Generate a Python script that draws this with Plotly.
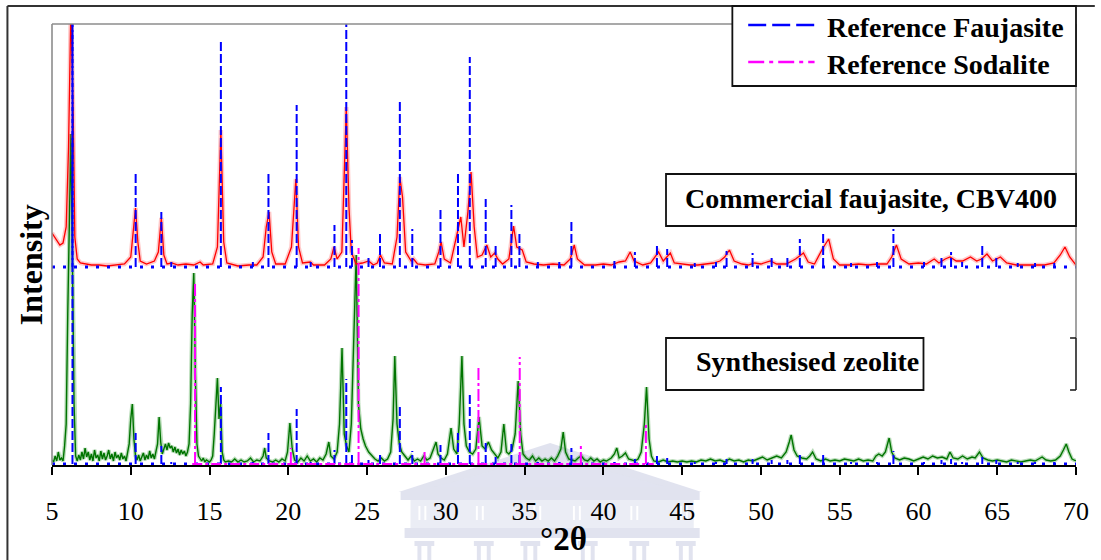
import plotly.graph_objects as go

# ---------------------------------------------------------------------------
# Data: XRD patterns (2-theta in degrees, intensity in arbitrary units)
# ---------------------------------------------------------------------------
UPPER_BASE = 198   # vertical offset of the commercial pattern
LOWER_BASE = 1     # vertical offset of the synthesised pattern

# Commercial faujasite CBV400 pattern
cbv_2theta = [5.0, 5.3, 5.5, 5.7, 5.9, 6.05, 6.2, 6.35, 6.45, 6.6, 6.8, 7.5, 8.0, 8.5, 9.0, 9.6,
              10.0, 10.15, 10.3, 10.45, 10.6, 11.0, 11.5, 11.75, 11.94, 12.1, 12.3, 12.6, 13.0,
              13.5, 14.0, 14.4, 14.6, 15.2, 15.5, 15.72, 15.9, 16.1, 16.8, 17.5, 18.0, 18.4,
              18.6, 18.78, 18.95, 19.2, 19.8, 20.2, 20.48, 20.65, 20.9, 21.4, 21.6, 22.3, 22.7,
              22.9, 23.1, 23.4, 23.68, 23.85, 24.0, 24.3, 24.7, 25.1, 25.4, 25.65, 25.85, 26.1,
              26.6, 26.9, 27.08, 27.25, 27.45, 27.8, 27.95, 28.2, 28.7, 29.3, 29.55, 29.7, 29.9,
              30.3, 30.6, 30.95, 31.15, 31.4, 31.6, 31.8, 32.0, 32.3, 32.6, 32.85, 33.1, 33.3,
              33.6, 34.0, 34.3, 34.5, 34.85, 35.1, 35.6, 36.2, 36.8, 37.5, 37.9, 38.15, 38.35,
              38.8, 39.5, 40.0, 40.5, 41.0, 41.4, 41.7, 41.95, 42.5, 43.0, 43.5, 43.8, 44.25,
              44.5, 45.0, 45.5, 46.0, 46.5, 47.0, 47.4, 47.7, 48.0, 48.3, 48.8, 49.2, 49.6, 50.0,
              50.6, 51.0, 51.6, 52.2, 52.7, 53.0, 53.4, 53.9, 54.3, 54.6, 55.0, 55.6, 56.2, 56.8,
              57.4, 58.0, 58.3, 58.6, 58.9, 59.4, 60.0, 60.5, 61.0, 61.3, 61.7, 62.0, 62.4, 62.8,
              63.3, 63.7, 64.0, 64.35, 64.7, 65.2, 65.6, 66.2, 66.8, 67.4, 68.0, 68.6, 69.0, 69.3,
              69.6, 70.0]
cbv_intensity = [34, 26, 22, 24, 40, 120, 260, 150, 30, 8, 4, 2, 2, 1, 2, 3,
                 10, 35, 59, 25, 6, 3, 6, 15, 49, 12, 3, 4, 2,
                 3, 2, 5, 2, 3, 20, 137, 25, 4, 1, 2, 2, 10,
                 40, 55, 15, 3, 3, 20, 88, 20, 4, 5, 2, 2, 8,
                 20, 8, 15, 160, 60, 15, 3, 4, 6, 2, 4, 12, 4,
                 3, 30, 90, 70, 15, 6, 8, 3, 2, 3, 15, 25, 8,
                 4, 25, 50, 20, 55, 95, 40, 10, 12, 22, 10, 14, 8,
                 3, 8, 41, 20, 17, 5, 3, 2, 3, 2, 8, 22, 8,
                 2, 2, 3, 2, 5, 6, 15, 6, 2, 4, 15, 6, 14,
                 4, 3, 2, 2, 3, 4, 6, 10, 17, 6, 3, 2, 4, 3,
                 6, 3, 3, 8, 14, 5, 3, 18, 28, 8, 2, 2, 3, 2,
                 3, 3, 10, 22, 8, 3, 4, 3, 8, 4, 8, 10, 6, 6,
                 10, 6, 8, 13, 6, 10, 4, 2, 2, 2, 2, 4, 12, 20,
                 10, 2]

# Synthesised zeolite pattern
syn_2theta = [5.0, 5.1, 5.2, 5.3, 5.4, 5.5, 5.6, 5.7, 5.8, 5.9, 6.0, 6.1, 6.2, 6.3, 6.4, 6.5,
              6.6, 6.7, 6.8, 6.9, 7.0, 7.1, 7.2, 7.3, 7.4, 7.5, 7.6, 7.7, 7.8, 7.9, 8.0, 8.1,
              8.2, 8.3, 8.4, 8.5, 8.6, 8.7, 8.8, 8.9, 9.0, 9.1, 9.2, 9.3, 9.4, 9.5, 9.6, 9.7,
              9.8, 9.9, 10.0, 10.1, 10.2, 10.3, 10.4, 10.5, 10.6, 10.7, 10.8, 10.9, 11.0, 11.1,
              11.2, 11.3, 11.4, 11.5, 11.6, 11.7, 11.8, 11.9, 12.0, 12.1, 12.2, 12.3, 12.4,
              12.5, 12.6, 12.7, 12.8, 12.9, 13.0, 13.1, 13.2, 13.3, 13.4, 13.5, 13.6, 13.7,
              13.8, 13.9, 14.0, 14.1, 14.2, 14.3, 14.4, 14.5, 14.6, 14.7, 14.8, 14.9, 15.0,
              15.1, 15.2, 15.3, 15.5, 15.6, 15.7, 15.8, 15.9, 16.0, 16.2, 16.4, 16.6, 16.8,
              17.0, 17.2, 17.4, 17.6, 17.8, 18.0, 18.2, 18.4, 18.5, 18.6, 18.8, 19.0, 19.2,
              19.4, 19.6, 19.8, 19.95, 20.1, 20.25, 20.4, 20.6, 20.8, 21.0, 21.2, 21.4, 21.6,
              21.8, 22.0, 22.2, 22.4, 22.57, 22.7, 22.9, 23.1, 23.25, 23.41, 23.55, 23.7,
              23.85, 24.0, 24.15, 24.31, 24.45, 24.6, 24.75, 24.9, 25.1, 25.3, 25.5, 25.7,
              25.9, 26.1, 26.3, 26.5, 26.65, 26.76, 26.9, 27.05, 27.2, 27.4, 27.6, 27.8, 28.0,
              28.2, 28.4, 28.6, 28.8, 29.0, 29.2, 29.38, 29.5, 29.7, 29.9, 30.1, 30.33, 30.5,
              30.7, 30.85, 31.02, 31.15, 31.3, 31.5, 31.7, 31.9, 32.11, 32.3, 32.5, 32.7, 32.9,
              33.1, 33.3, 33.5, 33.68, 33.85, 34.0, 34.2, 34.4, 34.59, 34.75, 34.9, 35.1, 35.3,
              35.5, 35.7, 35.9, 36.1, 36.3, 36.5, 36.7, 36.9, 37.1, 37.3, 37.45, 37.6, 37.8,
              38.0, 38.2, 38.4, 38.6, 38.8, 39.0, 39.2, 39.4, 39.6, 39.8, 40.0, 40.2, 40.5,
              40.7, 40.85, 41.0, 41.2, 41.4, 41.6, 41.8, 42.0, 42.2, 42.4, 42.6, 42.74, 42.9,
              43.05, 43.2, 43.5, 43.8, 44.1, 44.4, 44.7, 45.0, 45.3, 45.6, 45.9, 46.2, 46.5,
              46.8, 47.1, 47.4, 47.7, 48.0, 48.3, 48.6, 48.9, 49.2, 49.5, 49.8, 50.1, 50.4,
              50.7, 51.0, 51.3, 51.6, 51.8, 51.92, 52.1, 52.3, 52.6, 52.9, 53.1, 53.28, 53.5,
              53.8, 54.1, 54.4, 54.7, 55.0, 55.3, 55.6, 55.9, 56.2, 56.5, 56.8, 57.1, 57.3,
              57.48, 57.7, 57.9, 58.14, 58.3, 58.5, 58.8, 59.1, 59.4, 59.7, 60.0, 60.3, 60.6,
              60.9, 61.2, 61.5, 61.8, 62.0, 62.2, 62.5, 62.8, 63.1, 63.4, 63.6, 63.87, 64.1,
              64.4, 64.7, 65.0, 65.3, 65.6, 65.9, 66.2, 66.5, 66.8, 67.1, 67.4, 67.6, 67.85,
              68.1, 68.4, 68.7, 69.0, 69.2, 69.38, 69.55, 69.75, 70.0]
syn_intensity = [4, 2, 8, 3, 12, 4, 6, 3, 18, 40, 150, 250, 330, 200, 60, 8,
                 3, 9, 4, 12, 5, 16, 7, 12, 4, 10, 3, 14, 6, 9, 3, 13,
                 5, 11, 4, 8, 14, 5, 10, 3, 12, 6, 9, 4, 11, 5, 8, 3,
                 10, 20, 45, 60, 25, 8, 4, 9, 3, 7, 11, 4, 9, 5,
                 13, 6, 10, 5, 12, 20, 47, 22, 10, 16, 20, 14, 21,
                 16, 18, 12, 17, 11, 15, 9, 14, 10, 13, 8, 12, 20,
                 60, 150, 191, 90, 20, 8, 5, 3, 6, 2, 4, 3, 2,
                 4, 8, 30, 86, 45, 60, 12, 4, 2, 3, 2, 5, 2,
                 4, 2, 3, 6, 2, 4, 3, 8, 16, 6, 3, 2, 4,
                 2, 5, 3, 12, 41, 15, 4, 2, 6, 3, 8, 3, 5,
                 2, 6, 4, 10, 22, 8, 5, 12, 40, 116, 30, 18,
                 12, 40, 120, 209, 60, 35, 25, 18, 12, 8, 5, 3,
                 6, 3, 5, 12, 45, 108, 40, 20, 12, 8, 4, 8, 3,
                 5, 3, 8, 4, 6, 14, 22, 10, 6, 4, 10, 36, 15,
                 10, 40, 108, 40, 18, 12, 10, 15, 47, 18, 15, 22, 14,
                 10, 6, 12, 40, 12, 10, 14, 30, 83, 30, 10, 6, 4,
                 8, 3, 6, 3, 5, 3, 6, 3, 8, 15, 32, 12, 5,
                 4, 3, 6, 8, 4, 3, 6, 3, 5, 2, 4, 3, 6,
                 10, 16, 6, 8, 11, 5, 4, 3, 5, 12, 40, 77, 25,
                 8, 3, 2, 4, 2, 3, 2, 3, 2, 3, 2, 4, 3,
                 5, 3, 4, 2, 5, 3, 4, 2, 4, 3, 5, 7, 4,
                 6, 8, 6, 12, 22, 29, 14, 8, 6, 5, 8, 12, 5,
                 3, 5, 3, 4, 3, 5, 4, 3, 5, 3, 4, 3, 8,
                 10, 8, 12, 26, 12, 6, 4, 6, 5, 3, 5, 7, 5,
                 8, 6, 7, 5, 12, 6, 5, 8, 5, 7, 6, 12, 6,
                 4, 3, 4, 3, 2, 4, 3, 2, 3, 4, 3, 5, 7,
                 4, 3, 4, 8, 14, 20, 12, 5, 3]

# Reference faujasite stick pattern (positions, heights for upper and lower set)
fau_2theta = [6.3, 10.31, 11.94, 12.57, 15.72, 17.75, 18.74, 20.53, 21.42, 22.93, 23.68,
              24.04, 25.09, 25.82, 27.08, 27.87, 29.66, 30.77, 31.52, 32.53, 33.16, 34.16,
              34.67, 35.84, 37.2, 37.97, 40.7, 42.0, 43.4, 44.05, 45.8, 47.15, 47.82, 49.47,
              50.68, 51.68, 52.47, 53.95, 55.72, 57.37, 58.41, 60.35, 61.46, 62.07, 62.77,
              64.05, 64.94, 66.3, 67.4, 68.62]
fau_upper = [250, 94, 55, 5, 228, 5, 94, 162, 5, 42, 250,
             27, 12, 34, 167, 38, 60, 94, 210, 68, 22, 62,
             34, 5, 5, 46, 6, 15, 24, 18, 4, 5, 16, 14,
             11, 11, 28, 34, 4, 5, 38, 5, 11, 15, 5,
             21, 11, 4, 4, 4]
fau_lower = [441, 31, 18, 2, 77, 2, 31, 55, 2, 14, 85,
             9, 4, 11, 57, 13, 19, 31, 71, 22, 7, 20,
             11, 2, 2, 16, 2, 5, 8, 6, 2, 2, 5, 5,
             4, 4, 9, 11, 2, 2, 13, 2, 4, 5, 2,
             7, 4, 2, 2, 2]

# Reference sodalite stick pattern
sod_2theta = [14.08, 20.16, 24.46, 28.65, 32.07, 34.69, 38.57, 42.7]
sod_lower = [182, 16, 216, 14, 97, 107, 21, 41]

X_TICKS = [5, 10, 15, 20, 25, 30, 35, 40, 45, 50, 55, 60, 65, 70]

# ---------------------------------------------------------------------------
# Layout geometry (pixels)
# ---------------------------------------------------------------------------
W, H = 1101, 560
ML, MR, MT, MB = 52, 15, 24, 95
PW, PH = W - ML - MR, H - MT - MB
SERIF = "'Liberation Serif', 'Times New Roman', Times, serif"


def px(x):
    return (x - ML) / PW


def py(y):
    return (H - MB - y) / PH


def sticks(pos, heights, base):
    xs, ys = [], []
    for p, h in zip(pos, heights):
        xs += [p, p, None]
        ys += [base, base + h, None]
    return xs, ys


fig = go.Figure()

# Synthesised zeolite (green) with soft halo
syn_y = [LOWER_BASE + v for v in syn_intensity]
fig.add_trace(go.Scatter(x=syn_2theta, y=syn_y, mode="lines",
                         line=dict(color="rgba(0,130,0,0.28)", width=4),
                         hoverinfo="skip", showlegend=False))
fig.add_trace(go.Scatter(x=syn_2theta, y=syn_y, mode="lines", name="Synthesised zeolite",
                         line=dict(color="#007400", width=1.4), showlegend=False))

# Commercial faujasite (red) with soft halo
cbv_y = [UPPER_BASE + v for v in cbv_intensity]
fig.add_trace(go.Scatter(x=cbv_2theta, y=cbv_y, mode="lines",
                         line=dict(color="rgba(255,60,60,0.28)", width=4.5),
                         hoverinfo="skip", showlegend=False))
fig.add_trace(go.Scatter(x=cbv_2theta, y=cbv_y, mode="lines", name="Commercial faujasite, CBV400",
                         line=dict(color="#ff0000", width=1.3), showlegend=False))

# Reference faujasite sticks and baselines
for base, hts in ((UPPER_BASE, fau_upper), (LOWER_BASE, fau_lower)):
    fig.add_trace(go.Scatter(x=[X_TICKS[0], X_TICKS[-1]], y=[base, base], mode="lines",
                             line=dict(color="#0000ff", width=3, dash="3px,8px"),
                             hoverinfo="skip", showlegend=False))
    sx, sy = sticks(fau_2theta, hts, base)
    fig.add_trace(go.Scatter(x=sx, y=sy, mode="lines", name="Reference Faujasite",
                             line=dict(color="#0000ff", width=2, dash="9px,3px"),
                             connectgaps=False, showlegend=False))

# Reference sodalite sticks and baseline
fig.add_trace(go.Scatter(x=[13.9, 43.2], y=[LOWER_BASE, LOWER_BASE], mode="lines",
                         line=dict(color="#ff00ff", width=2, dash="10px,3px,3px,3px"),
                         hoverinfo="skip", showlegend=False))
mx, my = sticks(sod_2theta, sod_lower, LOWER_BASE)
fig.add_trace(go.Scatter(x=mx, y=my, mode="lines", name="Reference Sodalite",
                         line=dict(color="#ff00ff", width=2, dash="12px,3px,3px,3px"),
                         connectgaps=False, showlegend=False))

shapes = []
annotations = []


def line(x0, y0, x1, y1, color, width, dash=None, layer="above"):
    d = dict(type="line", xref="paper", yref="paper", x0=px(x0), y0=py(y0), x1=px(x1), y1=py(y1),
             line=dict(color=color, width=width), layer=layer)
    if dash:
        d["line"]["dash"] = dash
    shapes.append(d)


def rect(x0, y0, x1, y1, line_color=None, width=0, fill=None, layer="above"):
    shapes.append(dict(type="rect", xref="paper", yref="paper", x0=px(x0), y0=py(y0),
                       x1=px(x1), y1=py(y1),
                       line=dict(color=line_color or "rgba(0,0,0,0)", width=width),
                       fillcolor=fill or "rgba(0,0,0,0)", layer=layer))


def poly(points, fill, layer="below"):
    path = "M " + " L ".join(f"{px(x):.5f},{py(y):.5f}" for x, y in points) + " Z"
    shapes.append(dict(type="path", xref="paper", yref="paper", path=path,
                       fillcolor=fill, line=dict(width=0), layer=layer))


def text(x, y, s, size, bold=False, xanchor="center", yanchor="middle", angle=0):
    annotations.append(dict(xref="paper", yref="paper", x=px(x), y=py(y),
                            text=f"<b>{s}</b>" if bold else s, showarrow=False,
                            xanchor=xanchor, yanchor=yanchor, textangle=angle,
                            font=dict(family=SERIF, size=size, color="black")))


# Faint building emblem behind the lower axis area
WM = "rgba(205,208,228,0.6)"
WM2 = "rgba(224,227,240,0.65)"
poly([(555, 443), (708, 492), (402, 492)], WM)
poly([(555, 455), (672, 487), (438, 487)], WM2)
rect(404, 492, 706, 500, fill=WM, layer="below")
rect(414, 500, 700, 528, fill=WM2, layer="below")
for cx in (426, 484, 542, 582, 640, 690):
    rect(cx - 4, 506, cx - 2, 520, fill="white", layer="below")
    rect(cx + 2, 506, cx + 4, 520, fill="white", layer="below")
rect(408, 528, 706, 538, fill=WM, layer="below")
for cx in (428, 488, 535, 593, 645, 692):
    rect(cx - 10, 541, cx + 10, 546, fill=WM, layer="below")
    rect(cx - 7, 546, cx - 3, 560, fill=WM, layer="below")
    rect(cx + 3, 546, cx + 7, 560, fill=WM, layer="below")

# Outer frame (left and top edges visible)
line(7, 6, 7, 565, "#333333", 2)
line(7, 6, 1105, 6, "#333333", 2)

# Plot-area border
line(ML, MT, ML, H - MB, "#8c8c8c", 1.6)
line(ML, MT, W - MR, MT, "#8c8c8c", 1.6)
line(W - MR, MT, W - MR, 338, "#8c8c8c", 1.6)
line(W - MR, 338, W - MR, 390, "#222222", 1.6)
line(W - MR - 6, 338, W - MR, 338, "#222222", 1.6)
line(W - MR - 6, 390, W - MR, 390, "#222222", 1.6)

# Legend
rect(739, 6, 1086, 86, line_color="#111111", width=1.8, fill="white")
line(755, 25, 822, 25, "#0000ff", 2.5, dash="18px,6px")
line(755, 62, 822, 62, "#ff00ff", 2.5, dash="16px,5px,4px,5px")
text(833, 27, "Reference Faujasite", 28, bold=True, xanchor="left")
text(833, 64, "Reference Sodalite", 28, bold=True, xanchor="left")

# Pattern labels
rect(672, 174, 1086, 226, line_color="#111111", width=1.8, fill="white")
text(879, 198, "Commercial faujasite, CBV400", 28, bold=True)
rect(672, 338, 932, 390, line_color="#111111", width=1.8, fill="white")
text(700, 361, "Synthesised zeolite", 28, bold=True, xanchor="left")

# Axis titles
text(568, 539, "°2θ", 33, bold=True)
text(31, 265, "Intensity", 32, bold=True, angle=-90)

fig.update_layout(
    width=W, height=H,
    margin=dict(l=ML, r=MR, t=MT, b=MB, pad=0),
    paper_bgcolor="white", plot_bgcolor="white",
    showlegend=False,
    shapes=shapes, annotations=annotations,
    xaxis=dict(range=[X_TICKS[0], X_TICKS[-1]], tickvals=X_TICKS, ticktext=[str(t) for t in X_TICKS],
               showgrid=False, zeroline=False, showline=True, linecolor="black", linewidth=1.5,
               ticks="outside", ticklen=8, tickwidth=1.5, tickcolor="black", ticklabelstandoff=14,
               tickfont=dict(family=SERIF, size=26, color="black")),
    yaxis=dict(range=[0, PH], showgrid=False, zeroline=False, showline=False,
               showticklabels=False, ticks=""),
)

fig.write_html("out.html", include_plotlyjs=True, config={"displayModeBar": False})
